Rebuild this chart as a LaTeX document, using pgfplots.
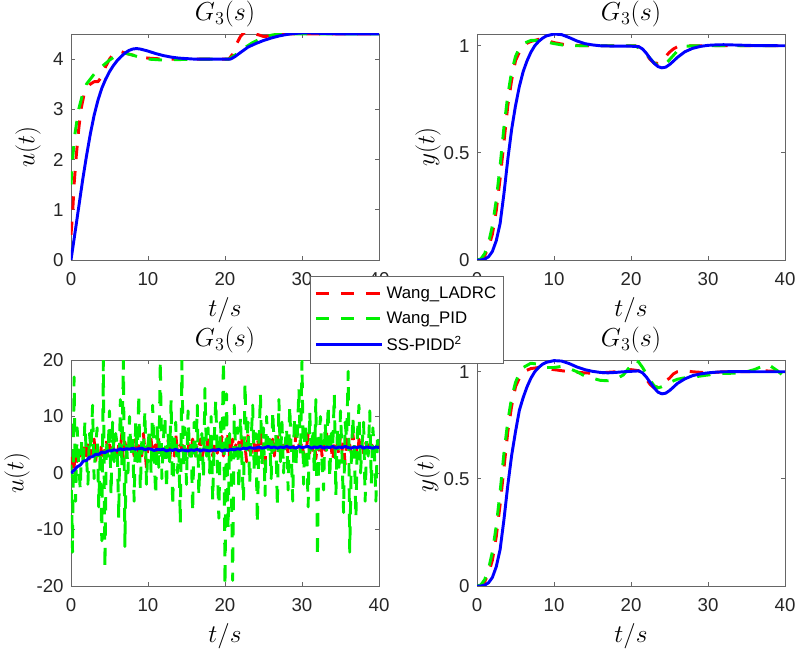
\RequirePackage{fix-cm}
\documentclass[border=0pt]{standalone}
\usepackage[no-math]{fontspec}
\usepackage{pgfplots}
\usepackage{pgfplotstable}
\pgfplotsset{compat=1.18}
\newfontfamily\arial{Liberation Sans}
\definecolor{mred}{RGB}{255,0,0}
\definecolor{mgreen}{RGB}{0,240,0}
\definecolor{mblue}{RGB}{0,0,255}

\pgfplotstableread{
t r g
0 0.5 1.5
0.2 3 -14
0.4 1 17
0.6 4 -5
0.8 2 8
1.0 5 2
1.2 3 -3
1.4 4.5 6
1.6 2.5 1
1.8 5 9
2.0 3 3
2.2 5 -2
2.4 2.5 7
2.6 4 4
2.8 3.5 12
3.0 6 -1
3.2 2 5
3.4 4.5 8
3.6 5 -6
3.8 3 4
4.0 5.5 -12
4.2 3 20
4.4 4 -17
4.6 6 6
4.8 2.5 3
5.0 5 11
5.2 4 -4
5.4 3 9
5.6 6 2
5.8 4.5 7
6.0 3 5
6.2 5 -8
6.4 4 13
6.6 7 1
6.8 2 20
7.0 5.5 -13
7.2 4 6
7.4 3.5 0
7.6 6 10
7.8 4 3
8.0 5 7
8.2 3 -5
8.4 6 9
8.6 2.5 2
8.8 4.5 14
9.0 5.5 -3
9.2 3 6
9.4 7 4
9.6 4 11
9.8 1 -2
10.0 5 5
10.2 4 8
10.4 6 0
10.6 3 12
10.8 4.5 3
11.0 5 -4
11.2 2.5 9
11.4 6.5 1
11.6 4 20
11.8 3.5 -1
12.0 5.5 6
12.2 3 10
12.4 4 -3
12.6 6 7
12.8 2 2
13.0 5 13
13.2 4.5 -6
13.4 3 5
13.6 7 9
13.8 4 0
14.0 3.5 4
14.2 5 -9
14.4 4 20
14.6 6 1
14.8 3 8
15.0 4.5 -2
15.2 5.5 11
15.4 2.5 3
15.6 4 6
15.8 6 -7
16.0 4 9
16.2 3 2
16.4 5.5 12
16.6 4.5 -4
16.8 6 5
17.0 2.5 7
17.2 4 -1
17.4 5 15
17.6 3.5 3
17.8 7 8
18.0 4 0
18.2 5 10
18.4 3 -5
18.6 6 6
18.8 4.5 13
19.0 3.5 2
19.2 5 -8
19.4 4 9
19.6 6.5 4
19.8 3 20
20.0 5 -20
20.2 4 14
20.4 7 -10
20.6 2.5 7
20.8 4.5 1
21.0 6 -19
21.2 3 12
21.4 5 3
21.6 4 8
21.8 5.5 -3
22.0 3 10
22.2 6 2
22.4 4.5 -5
22.6 5 16
22.8 2 4
23.0 7 9
23.2 4 -2
23.4 3.5 6
23.6 6 12
23.8 5 0
24.0 2 7
24.2 6.5 -9
24.4 4 5
24.6 7 14
24.8 3 1
25.0 5 8
25.2 1.5 -4
25.4 6 10
25.6 4.5 3
25.8 5 6
26.0 4 -1
26.2 6 11
26.4 3 4
26.6 5.5 7
26.8 7 -6
27.0 3.5 13
27.2 5 2
27.4 4 9
27.6 6 0
27.8 4.5 5
28.0 5 8
28.2 3.5 -3
28.4 6 12
28.6 4 4
28.8 5.5 -5
29.0 3 10
29.2 7 1
29.4 4.5 7
29.6 5 15
29.8 4 3
30.0 6 20
30.2 3 -2
30.4 5 9
30.6 4.5 5
30.8 7 -6
31.0 3.5 11
31.2 5.5 3
31.4 4 8
31.6 6 0
31.8 2.5 13
32.0 5 -15
32.2 4 6
32.4 6.5 10
32.6 3 2
32.8 5.5 -3
33.0 4 9
33.2 7 4
33.4 3.5 12
33.6 5 -1
33.8 4.5 7
34.0 2 5
34.2 6 14
34.4 4.5 -4
34.6 5 8
34.8 3 1
35.0 7 11
35.2 4 3
35.4 5.5 -7
35.6 1.5 9
35.8 6 6
36.0 4 18
36.2 5 -14
36.4 3.5 2
36.6 7 10
36.8 4.5 4
37.0 5 -8
37.2 2.5 7
37.4 6 12
37.6 4 0
37.8 5 5
38.0 3.5 9
38.2 6 -5
38.4 4.5 6
38.6 5 3
38.8 4 11
39.0 5.5 -2
39.2 3 8
39.4 5 4
39.6 4.5 -5
39.8 5 7
40.0 4.5 5
}\noisyRG

\pgfplotstableread{
t b
0 0.0
0.4 0.5
0.8 1.1
1.2 1.4
1.6 2.1
2.0 2.2
2.4 2.8
2.8 2.9
3.2 3.3
3.6 3.3
4.0 3.7
4.4 3.6
4.8 3.9
5.2 3.9
5.6 4.1
6.0 4.0
6.4 4.3
6.8 4.1
7.2 4.3
7.6 4.2
8.0 4.4
8.4 4.2
8.8 4.3
9.2 4.4
9.6 4.1
10.0 4.3
10.4 4.2
10.8 4.0
11.2 4.2
11.6 4.1
12.0 4.2
12.4 3.9
12.8 4.1
13.2 4.0
13.6 4.2
14.0 3.9
14.4 4.1
14.8 4.0
15.2 3.9
15.6 4.1
16.0 4.0
16.4 4.2
16.8 3.9
17.2 4.1
17.6 4.0
18.0 3.9
18.4 4.1
18.8 4.0
19.2 4.2
19.6 3.9
20.0 4.1
20.4 4.0
20.8 4.2
21.2 4.1
21.6 4.3
22.0 4.2
22.4 4.4
22.8 4.3
23.2 4.5
23.6 4.4
24.0 4.4
24.4 4.6
24.8 4.4
25.2 4.5
25.6 4.7
26.0 4.5
26.4 4.6
26.8 4.4
27.2 4.6
27.6 4.5
28.0 4.7
28.4 4.5
28.8 4.6
29.2 4.4
29.6 4.7
30.0 4.5
30.4 4.6
30.8 4.7
31.2 4.4
31.6 4.6
32.0 4.5
32.4 4.7
32.8 4.4
33.2 4.6
33.6 4.5
34.0 4.7
34.4 4.4
34.8 4.6
35.2 4.5
35.6 4.7
36.0 4.5
36.4 4.4
36.8 4.6
37.2 4.5
37.6 4.7
38.0 4.4
38.4 4.6
38.8 4.5
39.2 4.4
39.6 4.6
40.0 4.5
}\noisyB

\pgfplotsset{
  myax/.style={
    scale only axis, width=231pt, height=169.5pt,
    xmin=0, xmax=40, xtick={0,10,20,30,40},
    axis line style={black!60, line width=0.6pt},
    tick style={black!60, line width=0.6pt},
    major tick length=3pt, tick align=inside,
    ticklabel style={font=\arial\fontsize{14}{16}\selectfont, text=black!85},
    xticklabel style={yshift=-6pt},
    yticklabel style={xshift=-2pt},
    /pgf/number format/assume math mode=true,
    every axis title/.style={at={(axis description cs:0.5,1.089)}, anchor=center,
      font=\fontsize{19.5}{23}\selectfont},
    every axis x label/.style={at={(axis description cs:0.5,-0.221)}, anchor=center,
      font=\fontsize{19}{23}\selectfont},
    title={$G_3(s)$}, xlabel={$t/s$},
    every axis plot/.append style={line width=2.2pt, line join=round},
  },
  ylab/.style={every axis y label/.style={at={(axis description cs:#1,0.5)}, rotate=90,
      anchor=center, font=\fontsize{19}{23}\selectfont}},
  rl/.style={color=mred, dash pattern=on 10pt off 9pt},
  gl/.style={color=mgreen, dash pattern=on 10pt off 9pt},
  bl/.style={color=mblue},
}

\begin{document}
\begin{tikzpicture}[x=1pt,y=1pt]
\useasboundingbox (0,0) rectangle (597,486.75);

% top-left
\begin{axis}[myax, ylab=-0.1396, at={(53.25pt,291.75pt)}, anchor=south west,
  ymin=0, ymax=4.5, ytick={0,1,2,3,4}, ylabel={$u(t)$}]
\addplot[rl] coordinates {(0,0.5) (0.2,0.9) (0.4,1.5) (0.7,2.1) (1,2.6) (1.3,3.0) (1.7,3.3) (2,3.4) (2.5,3.5) (3,3.55) (3.5,3.55) (4,3.65) (4.5,3.85) (5,4.0) (5.5,4.1) (6,4.15) (6.5,4.15) (7,4.12) (8,4.08) (9,4.04) (10,4.02) (12,4.0) (15,4.0) (18,4.0) (20.5,4.0) (21,4.1) (21.5,4.3) (22,4.45) (22.5,4.53) (23,4.55) (24,4.5) (25,4.45) (26,4.46) (27,4.49) (28,4.5) (30,4.5) (40,4.5)};
\addplot[gl] coordinates {(0,1.5) (0.2,2.0) (0.5,2.5) (1,3.0) (1.5,3.3) (2,3.5) (3,3.7) (4,3.85) (5,3.98) (6,4.08) (7,4.12) (8,4.08) (9,4.03) (10,4.0) (12,3.98) (14,3.99) (16,4.0) (20.5,4.0) (21.5,4.1) (22.5,4.22) (23.5,4.32) (24.5,4.4) (25.5,4.46) (26.5,4.49) (28,4.5) (40,4.5)};
\addplot[bl] coordinates {(0,0) (0.5,0.52) (1,1.05) (1.5,1.58) (2,2.06) (2.5,2.5) (3,2.88) (3.5,3.18) (4,3.42) (4.5,3.6) (5,3.75) (5.5,3.87) (6,3.97) (6.5,4.05) (7,4.12) (7.5,4.17) (8,4.2) (8.5,4.21) (9,4.2) (10,4.16) (11,4.11) (12,4.07) (13,4.04) (14,4.02) (15,4.01) (16,4.0) (18,4.0) (20,4.0) (20.7,4.0) (21.2,4.04) (22,4.13) (23,4.24) (24,4.31) (25,4.37) (26,4.42) (27,4.46) (28,4.49) (29,4.51) (30,4.52) (31,4.52) (32,4.515) (34,4.505) (36,4.5) (40,4.5)};
\end{axis}

% top-right
\begin{axis}[myax, ylab=-0.159, at={(357.75pt,291.75pt)}, anchor=south west,
  ymin=0, ymax=1.055, ytick={0,0.5,1}, ylabel={$y(t)$}]
\addplot[rl] coordinates {(0,0) (0.5,0.003) (1,0.02) (1.5,0.06) (2,0.12) (2.5,0.23) (3,0.38) (3.5,0.55) (4,0.72) (4.5,0.84) (5,0.93) (5.5,0.97) (6,1.0) (6.5,1.012) (7,1.02) (8,1.03) (9,1.025) (10,1.015) (11,1.008) (12,1.003) (14,1.0) (20.5,1.0) (21,0.995) (21.5,0.98) (22,0.96) (22.5,0.935) (23,0.92) (23.5,0.918) (24,0.93) (24.5,0.95) (25,0.97) (25.5,0.985) (26,0.995) (27,1.0) (40,1.0)};
\addplot[gl] coordinates {(0,0) (0.5,0.005) (1,0.03) (1.5,0.08) (2,0.16) (2.5,0.28) (3,0.44) (3.5,0.62) (4,0.77) (4.5,0.88) (5,0.95) (5.5,0.99) (6,1.01) (7,1.025) (8,1.025) (9,1.018) (10,1.01) (11,1.004) (12,1.0) (20.5,1.0) (21,0.99) (22,0.96) (22.5,0.94) (23,0.92) (23.5,0.91) (24,0.905) (24.5,0.915) (25,0.935) (25.5,0.955) (26,0.975) (26.5,0.99) (27,0.997) (28,1.0) (40,1.0)};
\addplot[bl] coordinates {(0,0) (0.5,0) (1,0.004) (1.5,0.015) (2,0.04) (2.5,0.09) (3,0.17) (3.5,0.31) (4,0.47) (4.5,0.61) (5,0.72) (5.5,0.81) (6,0.88) (6.5,0.93) (7,0.97) (7.5,1.0) (8,1.02) (8.5,1.035) (9,1.046) (10,1.055) (11,1.052) (12,1.038) (13,1.022) (14,1.01) (15,1.004) (16,1.0) (18,0.998) (20,0.998) (21,0.996) (21.5,0.985) (22,0.965) (22.5,0.94) (23,0.918) (23.5,0.903) (24,0.897) (24.5,0.9) (25,0.912) (25.5,0.928) (26,0.945) (27,0.972) (28,0.988) (29,0.997) (30,1.002) (31,1.004) (32,1.005) (34,1.003) (36,1.001) (40,1.0)};
\end{axis}

% bottom-left
\begin{axis}[myax, ylab=-0.175, at={(53.25pt,47.25pt)}, anchor=south west,
  ymin=-20, ymax=20, ytick={-20,-10,0,10,20}, ylabel={$u(t)$}]
\addplot[rl] table[x=t,y=r] {\noisyRG};
\addplot[gl] table[x=t,y=g] {\noisyRG};
\addplot[bl] table[x=t,y=b] {\noisyB};
\end{axis}

% bottom-right
\begin{axis}[myax, ylab=-0.162, at={(357.75pt,47.25pt)}, anchor=south west,
  ymin=0, ymax=1.055, ytick={0,0.5,1}, ylabel={$y(t)$},
  legend style={at={(-0.542,1.373)}, anchor=north west, draw=black!60, fill=white,
    font=\arial\fontsize{12.6}{15}\selectfont, inner ysep=6pt, inner xsep=3pt, row sep=4.5pt},
  legend cell align=left,
  legend image code/.code={\draw[#1] (0pt,0pt) -- (50pt,0pt);}]
\addplot[rl] coordinates {(0,0) (0.5,0.003) (1,0.02) (1.5,0.06) (2,0.12) (2.5,0.23) (3,0.38) (3.5,0.55) (4,0.72) (4.5,0.84) (5,0.93) (5.5,0.97) (6,1.0) (7,1.015) (8,1.02) (9,1.015) (10,1.01) (12,1.0) (14,0.995) (15,0.993) (16,0.995) (18,1.0) (19,1.005) (20,1.01) (21,1.005) (21.5,0.99) (22,0.965) (22.5,0.94) (23,0.925) (23.5,0.93) (24,0.945) (25,0.97) (25.5,0.99) (26,1.0) (27,1.005) (28,1.0) (30,0.995) (32,1.0) (35,1.0) (37,1.005) (40,1.0)};
\addplot[gl] coordinates {(0,0) (0.5,0.005) (1,0.03) (1.5,0.08) (2,0.16) (2.5,0.28) (3,0.44) (3.5,0.62) (4,0.77) (4.5,0.88) (5,0.95) (5.5,0.995) (6,1.02) (7,1.04) (8,1.035) (9,1.02) (10,1.02) (11,1.025) (12,1.015) (13,1.0) (14,0.98) (15,0.97) (16,0.96) (17,0.958) (18,0.965) (19,0.985) (20,1.03) (20.5,1.055) (21,1.045) (21.5,1.02) (22,0.99) (22.5,0.96) (23,0.935) (23.5,0.925) (24,0.93) (25,0.95) (26,0.965) (27,0.972) (28,0.975) (29,0.98) (30,0.985) (31,0.99) (32,0.992) (33,0.993) (34,0.995) (35,1.0) (36,1.01) (37,1.025) (37.5,1.035) (38,1.03) (39,1.005) (40,0.975)};
\addplot[bl] coordinates {(0,0) (0.5,0) (1,0.004) (1.5,0.015) (2,0.04) (2.5,0.09) (3,0.17) (3.5,0.31) (4,0.47) (4.5,0.61) (5,0.72) (5.5,0.82) (6,0.88) (6.5,0.93) (7,0.97) (7.5,1.0) (8,1.02) (8.5,1.035) (9,1.044) (10,1.052) (11,1.05) (12,1.038) (13,1.022) (14,1.01) (15,1.002) (16,0.997) (17,0.995) (18,0.997) (19,1.0) (20,1.002) (21,1.004) (21.5,0.995) (22,0.975) (22.5,0.95) (23,0.925) (23.5,0.905) (24,0.897) (24.5,0.9) (25,0.912) (25.5,0.928) (26,0.945) (27,0.967) (28,0.982) (29,0.99) (30,0.995) (31,0.998) (32,1.0) (34,1.001) (36,1.0) (38,1.0) (40,1.0)};
\legend{Wang\_LADRC, Wang\_PID, SS-PIDD\textsuperscript{2}}
\end{axis}
\end{tikzpicture}
\end{document}
